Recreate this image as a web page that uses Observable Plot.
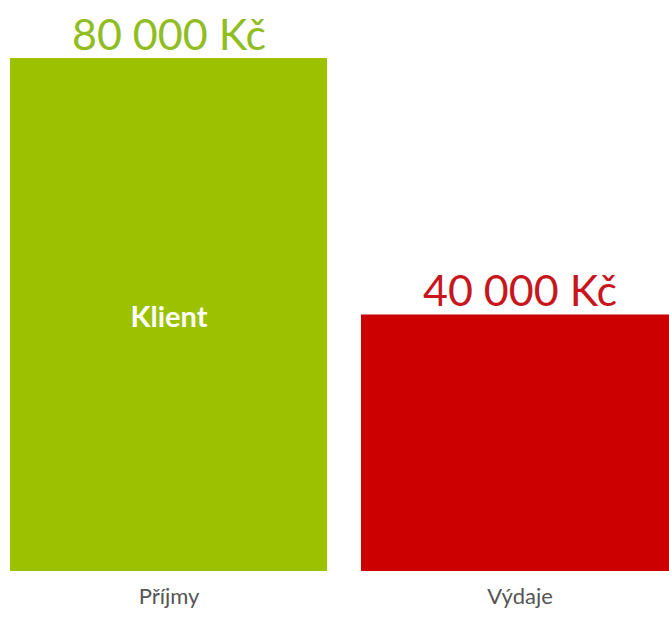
<!DOCTYPE html>
<html>
<head>
<meta charset="utf-8">
<script src="https://cdn.jsdelivr.net/npm/d3@7"></script>
<script src="https://cdn.jsdelivr.net/npm/@observablehq/plot@0.6"></script>
<style>
  html, body { margin: 0; padding: 0; background: #fff; overflow: hidden; }
</style>
</head>
<body>
<div id="chart"></div>
<script>
const categories = ["Příjmy", "Výdaje"];
const values = [80000, 40000];
const valueLabels = ["80 000 Kč", "40 000 Kč"];
const barColors = ["#9bc100", "#cc0000"];
const textColors = ["#8fbd22", "#c8161d"];
const innerLabels = ["Klient", ""];

const data = categories.map((c, i) => ({
  cat: c, value: values[i], label: valueLabels[i],
  bar: barColors[i], text: textColors[i], inner: innerLabels[i]
}));

const chart = Plot.plot({
  width: 669,
  height: 636,
  marginTop: 58,
  marginBottom: 65,
  marginLeft: 10,
  marginRight: -9,
  style: { fontFamily: "Lato, sans-serif", overflow: "hidden", background: "#fff" },
  x: { domain: categories, paddingInner: 0.097, paddingOuter: 0, label: null },
  y: { domain: [0, 80000], axis: null },
  marks: [
    Plot.barY(data, { x: "cat", y: "value", fill: "bar" }),
    Plot.text(data, {
      x: "cat", y: "value", text: "label", fill: "text",
      fontSize: 43, lineAnchor: "bottom", dy: -9
    }),
    Plot.text(data.filter(d => d.inner), {
      x: "cat", y: d => d.value / 2, text: "inner", fill: "#fff",
      fontSize: 29, fontWeight: "bold", dy: 3
    }),
    Plot.axisX({
      tickSize: 0, tickPadding: 17, fontSize: 22, color: "#555",
      tickFormat: d => d, label: null
    })
  ],
  color: { type: "identity" }
});
document.getElementById("chart").appendChild(chart);
</script>
</body>
</html>
